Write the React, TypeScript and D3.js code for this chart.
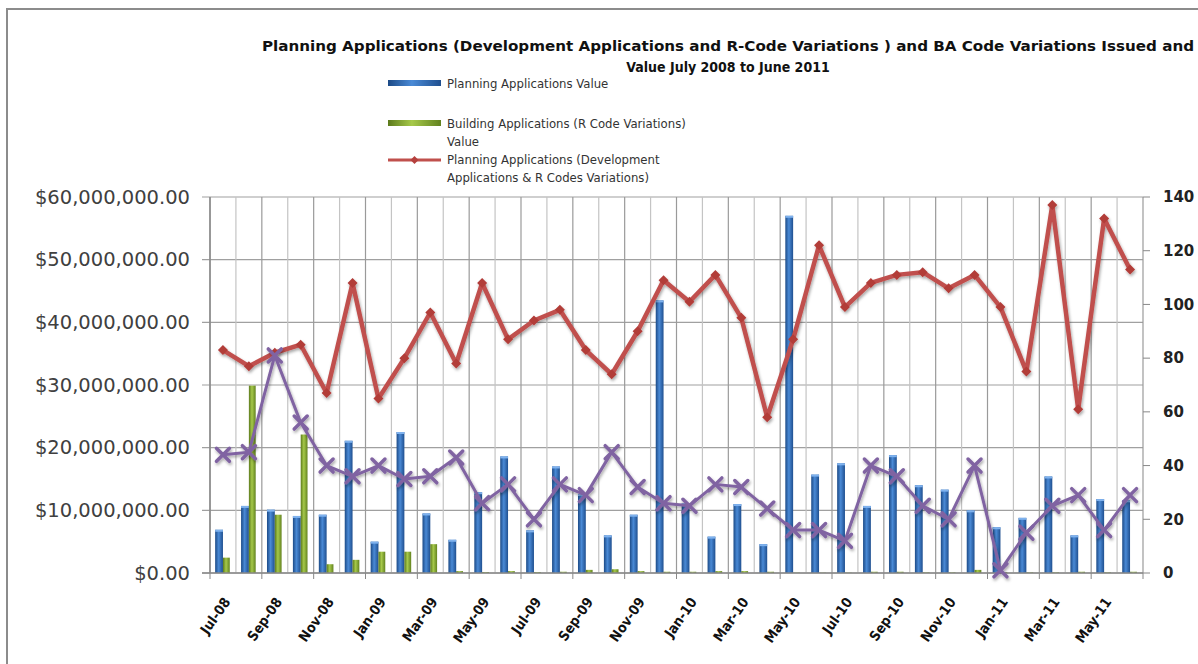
import { useEffect } from "react";
import * as d3 from "d3";

const months = [
  "Jul-08", "Aug-08", "Sep-08", "Oct-08", "Nov-08", "Dec-08",
  "Jan-09", "Feb-09", "Mar-09", "Apr-09", "May-09", "Jun-09",
  "Jul-09", "Aug-09", "Sep-09", "Oct-09", "Nov-09", "Dec-09",
  "Jan-10", "Feb-10", "Mar-10", "Apr-10", "May-10", "Jun-10",
  "Jul-10", "Aug-10", "Sep-10", "Oct-10", "Nov-10", "Dec-10",
  "Jan-11", "Feb-11", "Mar-11", "Apr-11", "May-11", "Jun-11",
];

// values in $ millions
const planningValue = [
  6.9, 10.7, 10.1, 9.1, 9.3, 21.1, 5.0, 22.5, 9.5, 5.3, 12.9, 18.6,
  6.8, 17.0, 12.6, 6.0, 9.3, 43.5, 11.1, 5.8, 11.0, 4.6, 57.0, 15.7,
  17.5, 10.7, 18.8, 14.0, 13.3, 10.0, 7.3, 8.8, 15.4, 6.0, 11.8, 11.6,
];

const buildingValue = [
  2.45, 29.9, 9.3, 22.1, 1.4, 2.1, 3.4, 3.4, 4.6, 0.3, 0.15, 0.3,
  0.15, 0.2, 0.5, 0.6, 0.3, 0.2, 0.2, 0.3, 0.3, 0.2, 0.05, 0.05,
  0.05, 0.2, 0.2, 0.1, 0.1, 0.5, 0.1, 0.1, 0.1, 0.2, 0.1, 0.2,
];

// counts (right axis)
const planningCount = [
  83, 77, 82, 85, 67, 108, 65, 80, 97, 78, 108, 87,
  94, 98, 83, 74, 90, 109, 101, 111, 95, 58, 87, 122,
  99, 108, 111, 112, 106, 111, 99, 75, 137, 61, 132, 113,
];

const baCount = [
  44, 45, 81, 56, 40, 36, 40, 35, 36, 43, 26, 33,
  20, 33, 29, 45, 32, 26, 25, 33, 32, 24, 16, 16,
  12, 40, 36, 25, 20, 40, 1, 15, 25, 29, 16, 29,
];

const leftTicks = [0, 10, 20, 30, 40, 50, 60];
const rightTicks = [0, 20, 40, 60, 80, 100, 120, 140];

const titleLines = [
  "Planning Applications (Development Applications and R-Code Variations )  and BA Code Variations Issued and",
  "Value July 2008 to June  2011",
];

const legendItems = [
  { lines: ["Planning Applications  Value"], kind: "blue" },
  { lines: ["Building Applications  (R Code Variations)", "Value"], kind: "green" },
  { lines: ["Planning Applications  (Development", "Applications & R Codes Variations)"], kind: "red" },
];

const L = 210, R = 1143, T = 197, B = 573;

export default function App() {
  useEffect(() => {
    document.body.style.margin = "0";
  }, []);

  const x = d3.scaleBand<string>().domain(months).range([L, R]).padding(0);
  const x1 = d3.scaleBand<string>().domain(["pa", "ba"]).range([0, x.bandwidth()]).paddingInner(0).paddingOuter(0.66);
  const yL = d3.scaleLinear().domain([0, 60]).range([B, T]);
  const yR = d3.scaleLinear().domain([0, 140]).range([B, T]);
  const cx = (m: string) => (x(m) ?? 0) + x.bandwidth() / 2;

  const line = d3.line<number>().x((_, i) => cx(months[i])).y(d => yR(d));
  const fmt = d3.format(",.2f");

  const condensed = "'DejaVu Sans Condensed', 'DejaVu Sans', sans-serif";

  return (
    <svg width={1198} height={664} style={{ display: "block", background: "#fff" }}>
      <defs>
        <linearGradient id="gBlue" x1="0" x2="1" y1="0" y2="0">
          <stop offset="0" stopColor="#1c4a86" />
          <stop offset="0.45" stopColor="#4a8ad6" />
          <stop offset="1" stopColor="#1f4f8f" />
        </linearGradient>
        <linearGradient id="gGreen" x1="0" x2="1" y1="0" y2="0">
          <stop offset="0" stopColor="#5c7a1c" />
          <stop offset="0.45" stopColor="#a6c94a" />
          <stop offset="1" stopColor="#62821f" />
        </linearGradient>
        <filter id="shadow" x="-10%" y="-10%" width="120%" height="130%">
          <feDropShadow dx="1" dy="2" stdDeviation="1.5" floodColor="#000" floodOpacity="0.35" />
        </filter>
      </defs>

      {/* outer frame */}
      <rect x={7} y={9} width={1200} height={670} fill="none" stroke="#8c8c8c" strokeWidth={2} />

      {/* title */}
      <text x={728} y={51} textAnchor="middle" fontFamily={condensed} fontWeight="bold" fontSize={14}
        textLength={932} lengthAdjust="spacingAndGlyphs" fill="#111">{titleLines[0]}</text>
      <text x={728} y={72} textAnchor="middle" fontFamily={condensed} fontWeight="bold" fontSize={14} fill="#111">{titleLines[1]}</text>

      {/* legend */}
      {legendItems.map((it, i) => {
        const y0 = [84, 124, 160][i];
        return (
          <g key={it.kind}>
            {it.kind === "blue" && <rect x={388} y={y0 - 4} width={53} height={6} fill="url(#gBlue)" />}
            {it.kind === "green" && <rect x={388} y={y0 - 4} width={53} height={6} fill="url(#gGreen)" />}
            {it.kind === "red" && (
              <g>
                <line x1={388} x2={441} y1={y0} y2={y0} stroke="#c0504d" strokeWidth={3} />
                <path d={`M414.5,${y0 - 4}L418.5,${y0}L414.5,${y0 + 4}L410.5,${y0}Z`} fill="#b5403d" />
              </g>
            )}
            {it.lines.map((t, j) => (
              <text key={j} x={447} y={y0 + 4 + j * 18} fontFamily={condensed} fontSize={13} fill="#333">{t}</text>
            ))}
          </g>
        );
      })}

      {/* horizontal grid + left ticks */}
      {leftTicks.map(t => (
        <line key={t} x1={202} x2={R} y1={yL(t)} y2={yL(t)} stroke="#a0a0a0" strokeWidth={1.2} />
      ))}
      {/* vertical grid */}
      {months.map((m, i) => (
        <line key={m} x1={x(m)} x2={x(m)} y1={T} y2={B} stroke={i % 2 === 0 ? "#9a9a9a" : "#c4c4c4"} strokeWidth={1.2} />
      ))}
      <line x1={R} x2={R} y1={T} y2={B} stroke="#9a9a9a" strokeWidth={1.2} />
      <line x1={L} x2={L} y1={T} y2={B} stroke="#8a8a8a" strokeWidth={1.5} />

      {/* left axis labels */}
      {leftTicks.map(t => (
        <text key={t} x={190} y={yL(t)} dy="0.35em" textAnchor="end" fontFamily="'DejaVu Sans', sans-serif"
          fontSize={19.5} fill="#404040">{"$" + fmt(t * 1e6)}</text>
      ))}

      {/* right axis */}
      {rightTicks.map(t => (
        <g key={t}>
          <line x1={R} x2={R + 7} y1={yR(t)} y2={yR(t)} stroke="#888" />
          <text x={1163} y={yR(t)} dy="0.35em" fontFamily="'DejaVu Sans', sans-serif" fontWeight="bold"
            fontSize={15} fill="#222">{t}</text>
        </g>
      ))}

      {/* bars */}
      {months.map((m, i) => (
        <g key={m} transform={`translate(${x(m)},0)`}>
          <rect x={x1("pa")} width={x1.bandwidth()} y={yL(planningValue[i])} height={B - yL(planningValue[i])} fill="url(#gBlue)" />
          <rect x={x1("pa")} width={x1.bandwidth()} y={yL(planningValue[i])} height={2} fill="#7fb2ee" />
          <rect x={x1("ba")} width={x1.bandwidth() - 1} y={yL(buildingValue[i])} height={B - yL(buildingValue[i])} fill="url(#gGreen)" />
        </g>
      ))}

      {/* bottom axis */}
      <line x1={202} x2={R} y1={B} y2={B} stroke="#888" strokeWidth={1.5} />
      {months.map((m, i) => i % 2 === 0 ? (
        <line key={m} x1={x(m)} x2={x(m)} y1={B} y2={B + 6} stroke="#888" />
      ) : null)}
      <line x1={R} x2={R} y1={B} y2={B + 6} stroke="#888" />

      {/* lines */}
      <g filter="url(#shadow)">
        <path d={line(planningCount) ?? ""} fill="none" stroke="#c0504d" strokeWidth={4.5} strokeLinejoin="round" />
        {planningCount.map((v, i) => {
          const px = cx(months[i]), py = yR(v);
          return <path key={i} d={`M${px},${py - 5}L${px + 5},${py}L${px},${py + 5}L${px - 5},${py}Z`} fill="#b23c39" />;
        })}
      </g>
      <g filter="url(#shadow)">
        <path d={line(baCount) ?? ""} fill="none" stroke="#8064a2" strokeWidth={3} strokeLinejoin="round" />
        {baCount.map((v, i) => {
          const px = cx(months[i]), py = yR(v);
          return (
            <path key={i} d={`M${px - 6.5},${py - 6.5}L${px + 6.5},${py + 6.5}M${px - 6.5},${py + 6.5}L${px + 6.5},${py - 6.5}`}
              stroke="#8064a2" strokeWidth={3.5} strokeLinecap="round" />
          );
        })}
      </g>

      {/* x labels */}
      {months.map((m, i) => i % 2 === 0 ? (
        <text key={m} transform={`translate(${cx(m) + 4},${B + 26}) rotate(-55)`} textAnchor="end" dy="0.35em"
          fontFamily={condensed} fontWeight="bold" fontSize={14} fill="#111">{m}</text>
      ) : null)}
    </svg>
  );
}
